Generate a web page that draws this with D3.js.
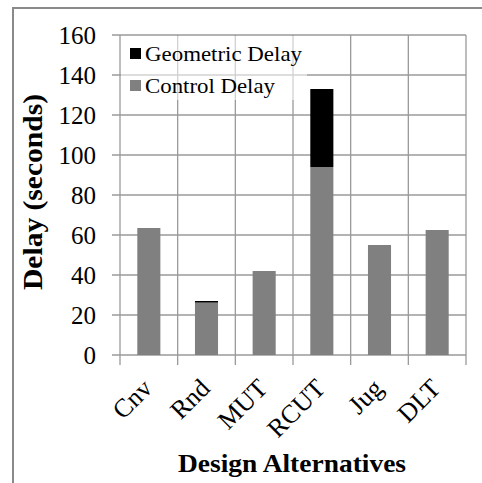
<!DOCTYPE html>
<html><head><meta charset="utf-8">
<script src="https://cdn.jsdelivr.net/npm/d3@7"></script>
<style>body{margin:0;background:#fff} text{font-family:"Times New Roman","Liberation Serif",serif}</style>
</head><body>
<svg id="c" width="482" height="483"></svg>
<script>
const categories = ["Cnv","Rnd","MUT","RCUT","Jug","DLT"];
const controlDelay = [63.5, 26.2, 42, 94, 55, 62.5];
const geometricDelay = [0, 0.8, 0, 39, 0, 0];
const yTicks = [0,20,40,60,80,100,120,140,160];
const seriesNames = ["Geometric Delay","Control Delay"];
const seriesColors = ["#000000","#808080"];

const svg = d3.select("#c");
const m = {left:120, right:466, top:35, bottom:355};
const x = d3.scaleBand().domain(categories).range([m.left, m.right]).paddingInner(0.6).paddingOuter(0.3);
const xb = d3.scaleBand().domain(categories).range([m.left, m.right]);
const y = d3.scaleLinear().domain([0,160]).range([m.bottom, m.top]);
const grid = "#9a9a9a";

// outer frame
svg.append("path").attr("d","M13,483V8H482").attr("fill","none").attr("stroke","#8a8a8a").attr("stroke-width",2);

// horizontal gridlines + y ticks
svg.append("g").selectAll("line").data(yTicks).join("line")
  .attr("x1", m.left-8).attr("x2", m.right)
  .attr("y1", d=>y(d)).attr("y2", d=>y(d))
  .attr("stroke", grid).attr("stroke-width",1.3);
// vertical gridlines
const bounds = categories.map(c=>xb(c)).concat([m.right]);
svg.append("g").selectAll("line").data(bounds).join("line")
  .attr("x1", d=>d).attr("x2", d=>d)
  .attr("y1", m.top).attr("y2", m.bottom+10)
  .attr("stroke", grid).attr("stroke-width",1.3);

// bars
const stack = categories.map((c,i)=>({c, ctrl:controlDelay[i], geo:geometricDelay[i]}));
svg.append("g").selectAll("rect").data(stack).join("rect")
  .attr("x", d=>x(d.c)).attr("width", x.bandwidth())
  .attr("y", d=>y(d.ctrl)).attr("height", d=>y(0)-y(d.ctrl))
  .attr("fill", seriesColors[1]);
svg.append("g").selectAll("rect").data(stack.filter(d=>d.geo>0)).join("rect")
  .attr("x", d=>x(d.c)).attr("width", x.bandwidth())
  .attr("y", d=>y(d.ctrl+d.geo)).attr("height", d=>y(d.ctrl)-y(d.ctrl+d.geo))
  .attr("fill", seriesColors[0]);

// y tick labels
svg.append("g").selectAll("text").data(yTicks).join("text")
  .attr("x", 96).attr("y", d=>y(d)).attr("dy","0.35em")
  .attr("text-anchor","end").attr("font-size",25)
  .attr("fill","#000").text(d=>d);

// x tick labels
svg.append("g").selectAll("text").data(categories).join("text")
  .attr("transform", d=>`translate(${xb(d)+xb.bandwidth()/2-8},${377}) rotate(-45)`)
  .attr("text-anchor","end").attr("dy","0.7em")
  .attr("font-size",26).attr("fill","#000").text(d=>d);

// axis titles
svg.append("text").attr("transform",`translate(42,${(m.top+m.bottom)/2-3}) rotate(-90)`)
  .attr("text-anchor","middle").attr("font-weight","bold")
  .attr("font-size",27).attr("textLength",196).attr("lengthAdjust","spacingAndGlyphs").text("Delay (seconds)");
svg.append("text").attr("x",(m.left+m.right)/2-1).attr("y",472)
  .attr("text-anchor","middle").attr("font-weight","bold")
  .attr("font-size",26).attr("textLength",228).attr("lengthAdjust","spacingAndGlyphs").text("Design Alternatives");

// legend
const legendWidths = [157, 130];
svg.append("rect").attr("x",121).attr("y",36).attr("width",186).attr("height",64)
  .attr("fill","#fff").attr("fill-opacity",0.55);
const lg = svg.append("g").selectAll("g").data(seriesNames).join("g")
  .attr("transform",(d,i)=>`translate(130,${48+i*32})`);
lg.append("rect").attr("width",11).attr("height",11).attr("fill",(d,i)=>seriesColors[i]);
lg.append("text").attr("x",15).attr("y",13)
  .attr("font-size",22).attr("textLength",(d,i)=>legendWidths[i]).attr("lengthAdjust","spacingAndGlyphs")
  .attr("fill","#000").text(d=>d);
</script>
</body></html>
